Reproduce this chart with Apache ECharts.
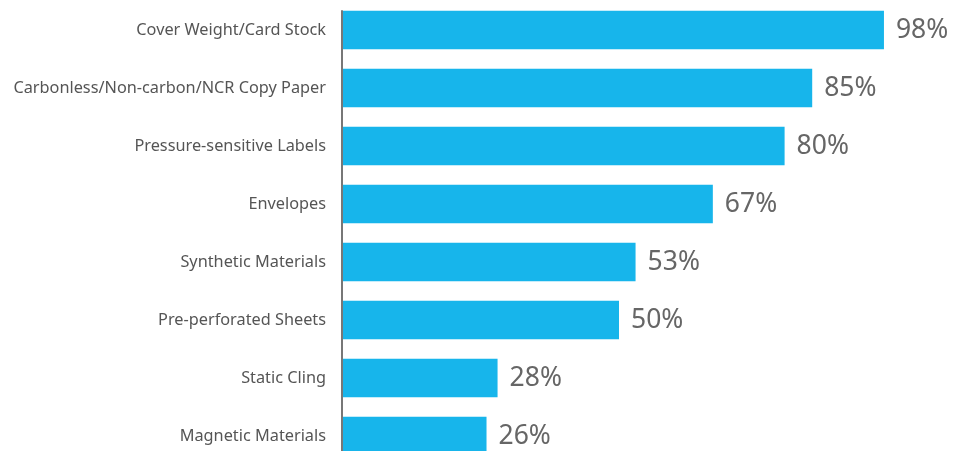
<!DOCTYPE html>
<html><head><meta charset="utf-8">
<script src="https://cdn.jsdelivr.net/npm/echarts@6/dist/echarts.min.js"></script>
<style>html,body{margin:0;padding:0;background:#fff}#c{width:961px;height:451px}</style>
</head><body><div id="c"></div>
<script>
const categories = ["Cover Weight/Card Stock","Carbonless/Non-carbon/NCR Copy Paper","Pressure-sensitive Labels","Envelopes","Synthetic Materials","Pre-perforated Sheets","Static Cling","Magnetic Materials"];
const values = [98,85,80,67,53,50,28,26];

const chart = echarts.init(document.getElementById('c'), null, {renderer:'canvas'});
chart.setOption({
  animation:false,
  grid:[{left:343,top:1,width:552,height:464,outerBoundsMode:'none',containLabel:false},
        {left:342,top:11,width:552,bottom:0,outerBoundsMode:'none',containLabel:false}],
  xAxis:[{type:'value',min:0,max:100,show:false,gridIndex:0},
         {type:'value',min:0,max:1,show:false,gridIndex:1}],
  yAxis:[{type:'category',data:categories,inverse:true,gridIndex:0,
          axisLine:{show:false},axisTick:{show:false},
          axisLabel:{color:'#555',fontFamily:'Noto Sans',fontSize:16.3,margin:17}},
         {type:'value',min:0,max:1,gridIndex:1,
          axisLine:{show:true,lineStyle:{color:'#777',width:2}},
          axisTick:{show:false},axisLabel:{show:false},splitLine:{show:false}}],
  series:[{type:'bar',data:values,xAxisIndex:0,yAxisIndex:0,barCategoryGap:'34%',
    itemStyle:{color:'#17b5eb'},
    label:{show:true,position:'right',distance:12,formatter:'{c}%',color:'#666',fontFamily:'Noto Sans',fontSize:26.5}}]
});
</script></body></html>
